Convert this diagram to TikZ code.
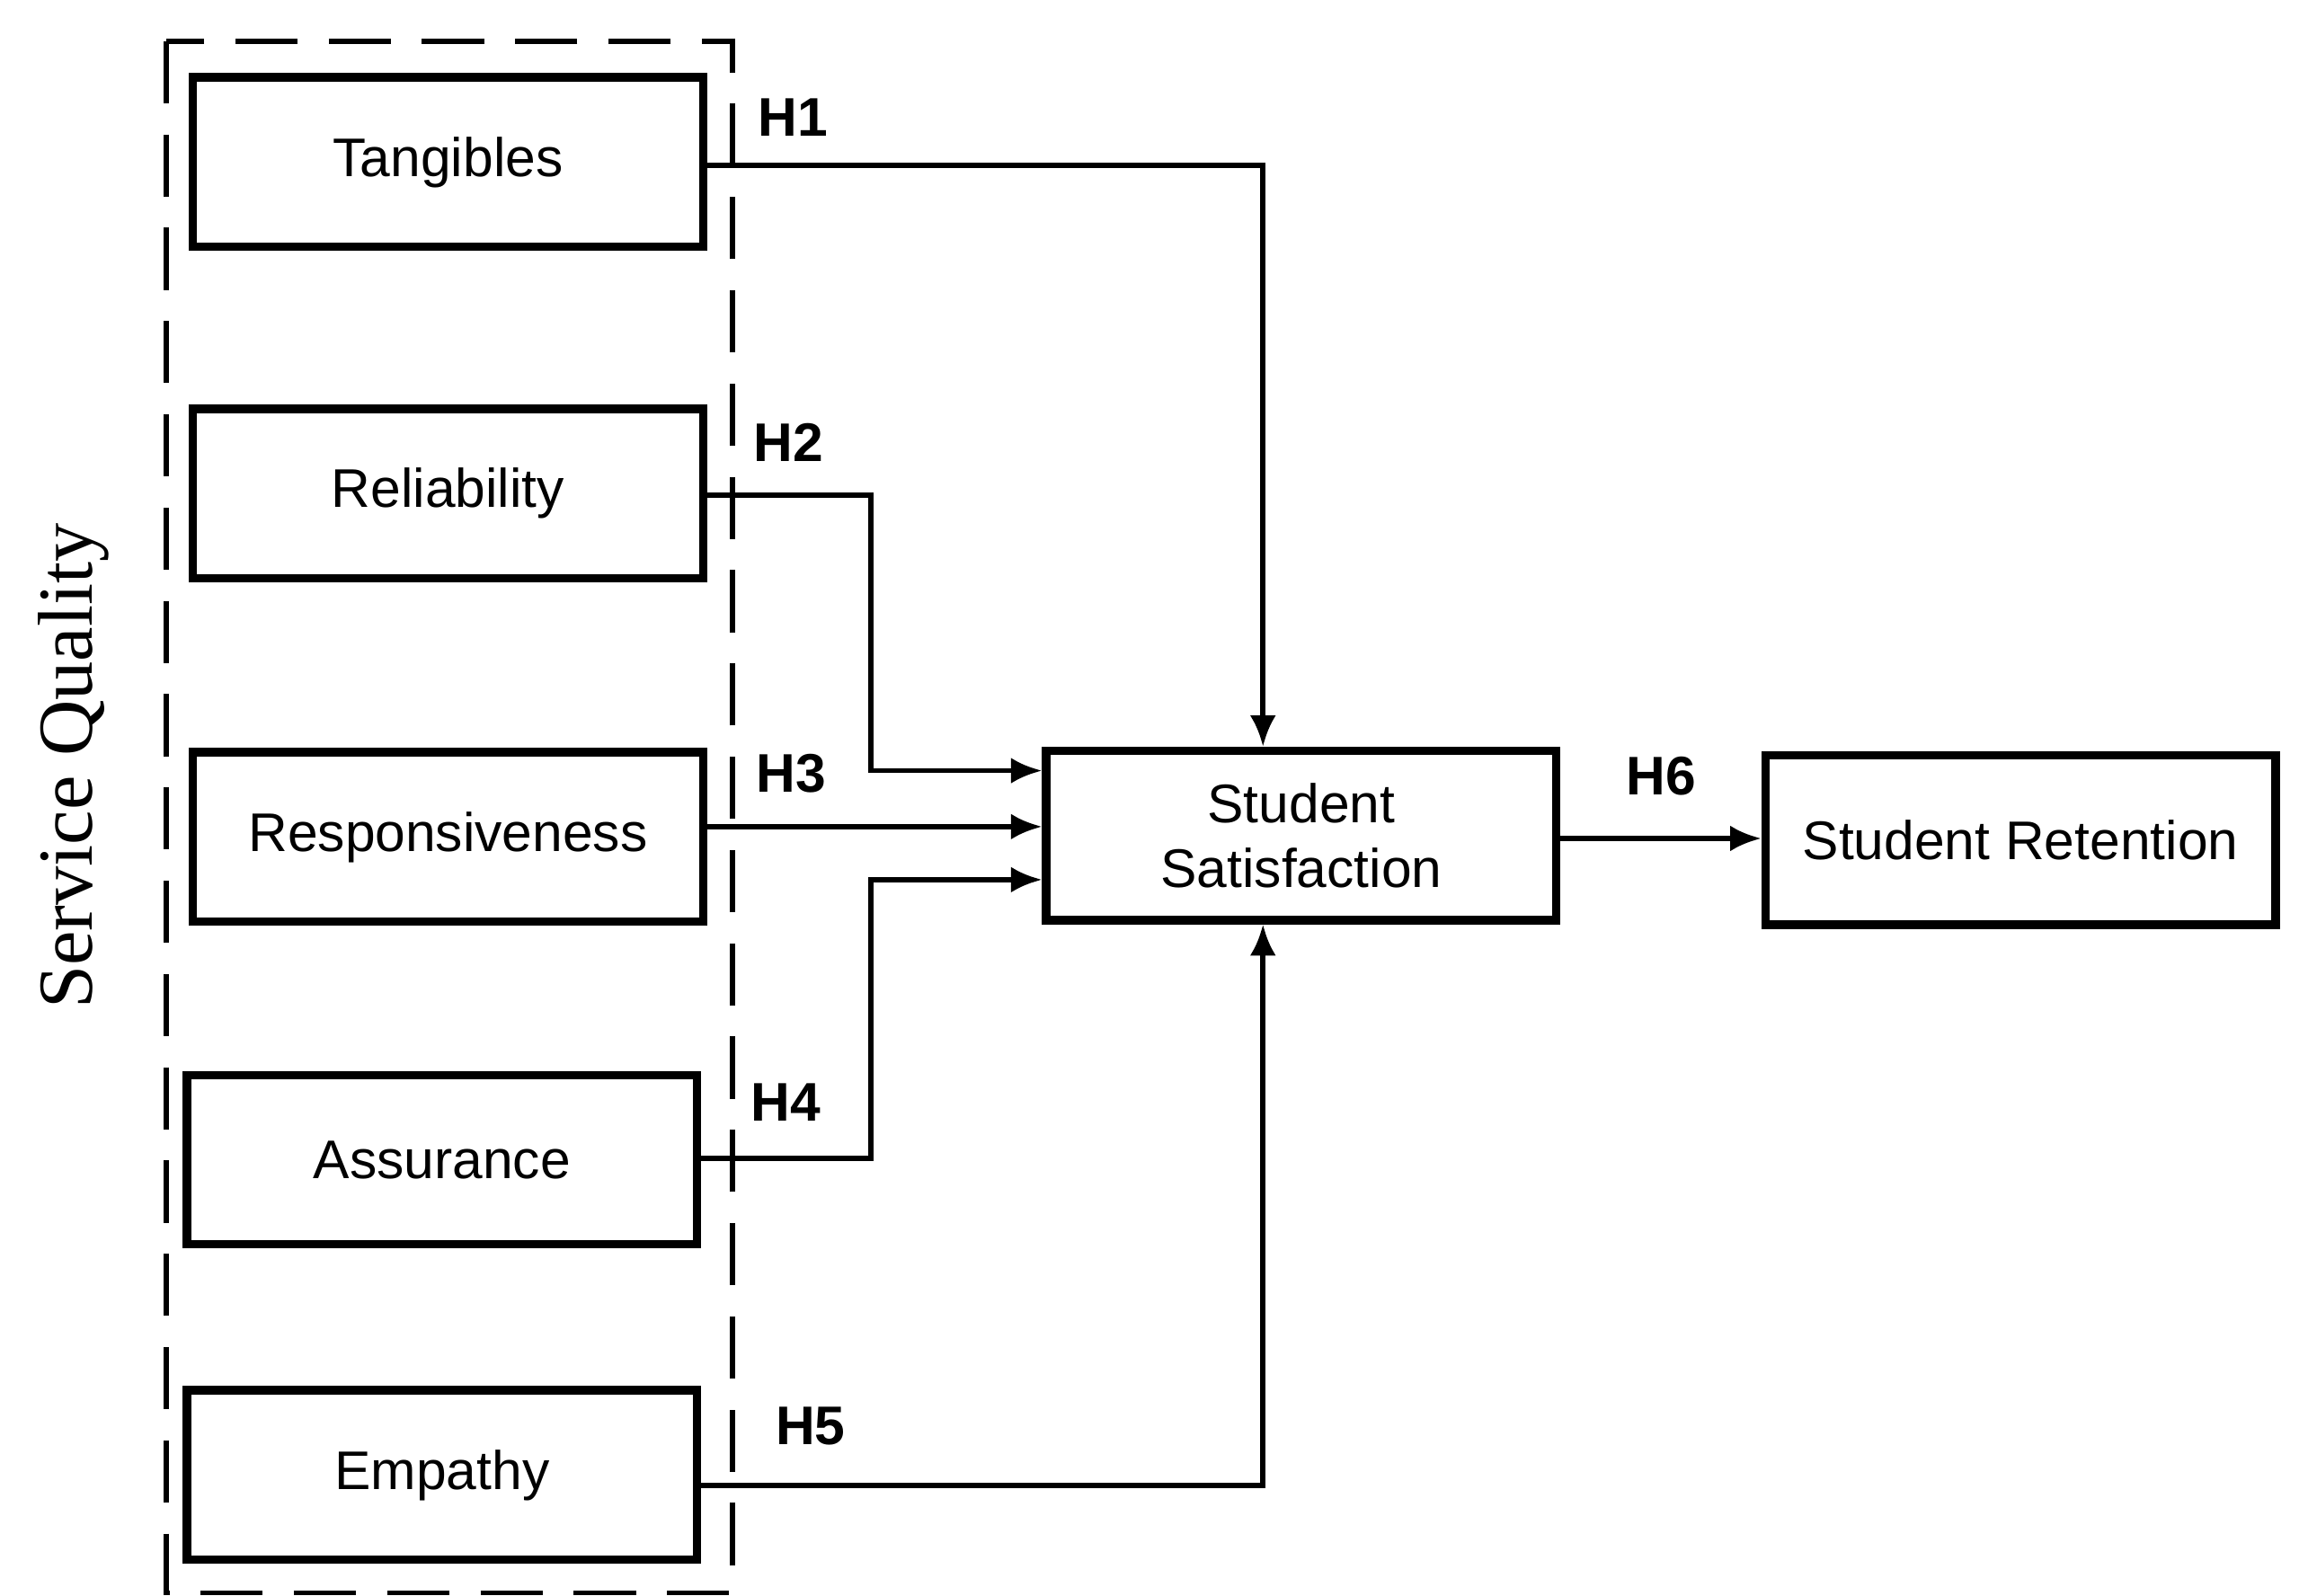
\documentclass[tikz,border=0pt]{standalone}
\usepackage{fontspec}
\setmainfont{Liberation Sans}
\newfontfamily\serifq{Liberation Serif}
\usetikzlibrary{arrows.meta}
\begin{document}
\begin{tikzpicture}[x=0.01cm,y=-0.01cm,
 box/.style={draw,line width=1.6pt,minimum width=3.46cm,minimum height=1.15cm,font=\fontsize{10.5}{12.5}\selectfont,align=center,inner sep=0},
 arr/.style={-{Latex[length=6pt,width=5pt]},line width=1pt},
 hl/.style={font=\bfseries\fontsize{10.5}{12}\selectfont}]
\useasboundingbox (0,0) rectangle (1560,1083);
\draw[dashed,line width=1pt,dash pattern=on 12pt off 6pt] (113,28) rectangle (497,1081);
\node[box] (tan) at (304,110) {Tangibles};
\node[box] (rel) at (304,335) {Reliability};
\node[box] (res) at (304,568) {Responsiveness};
\node[box] (ass) at (300,787) {Assurance};
\node[box] (emp) at (300,1001) {Empathy};
\node[box] (ss) at (883,567) {Student\\Satisfaction};
\node[box] (sr) at (1371,570) {Student Retention};
\node[rotate=90,font=\serifq\fontsize{15}{17}\selectfont] (sq) at (50,520) {Service Quality};
\coordinate (c1) at (857,112);
\coordinate (c2a) at (591,336); \coordinate (c2b) at (591,523);
\coordinate (c4a) at (591,786); \coordinate (c4b) at (591,597);
\coordinate (c5) at (857,1008);
\draw[arr] (tan.east|-c1) -- (c1) -- (c1|-ss.north);
\draw[arr] (rel.east|-c2a) -- (c2a) -- (c2b) -- (ss.west|-c2b);
\draw[arr] (res.east|-0,561) -- (ss.west|-0,561);
\draw[arr] (ass.east|-c4a) -- (c4a) -- (c4b) -- (ss.west|-c4b);
\draw[arr] (emp.east|-c5) -- (c5) -- (c5|-ss.south);
\draw[arr] (ss.east|-0,569) -- (sr.west|-0,569);
\node[hl] (h1) at (538,80) {H1};
\node[hl] (h2) at (535,300) {H2};
\node[hl] (h3) at (537,525) {H3};
\node[hl] (h4) at (533,748) {H4};
\node[hl] (h5) at (550,968) {H5};
\node[hl] (h6) at (1127,527) {H6};
\end{tikzpicture}
\end{document}
